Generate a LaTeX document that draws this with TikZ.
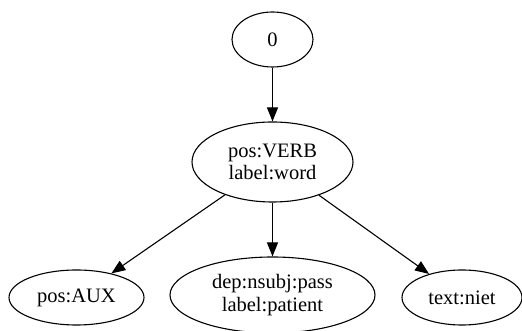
\documentclass[tikz,border=0pt]{standalone}
\usepackage{fontspec}
\setmainfont{Liberation Serif}
\usepackage{tikz}
\usetikzlibrary{shapes.geometric,arrows.meta}
\tikzstyle{node_oval} = [ellipse, draw, line width=1.1pt, inner sep=0pt, minimum width=120pt, minimum height=55pt, align=center, font=\fontsize{20.5}{22.5}\selectfont]
\tikzstyle{edge_dep} = [line width=1.1pt, -{Triangle[length=14pt,width=11pt]}]

\begin{document}
\begin{tikzpicture}[x=1pt,y=1pt]
\useasboundingbox (0,0) rectangle (522,331);
\node (R) at (272.5,291.5) [node_oval, minimum width=81pt] {0};
\node (V) at (272.5,169) [node_oval, minimum width=161pt, minimum height=80pt] {pos:VERB\\label:word};
\node (A) at (76.5,33.5) [node_oval, minimum width=135pt] {pos:AUX};
\node (S) at (272.5,36) [node_oval, minimum width=205pt, minimum height=76pt] {dep:nsubj:pass\\label:patient};
\node (N) at (462,33.5) [node_oval, minimum width=120pt] {text:niet};
\draw[edge_dep] (R)--(V);
\draw[edge_dep] (V)--(A);
\draw[edge_dep] (V)--(S);
\draw[edge_dep] (V)--(N);
\end{tikzpicture}
\end{document}
